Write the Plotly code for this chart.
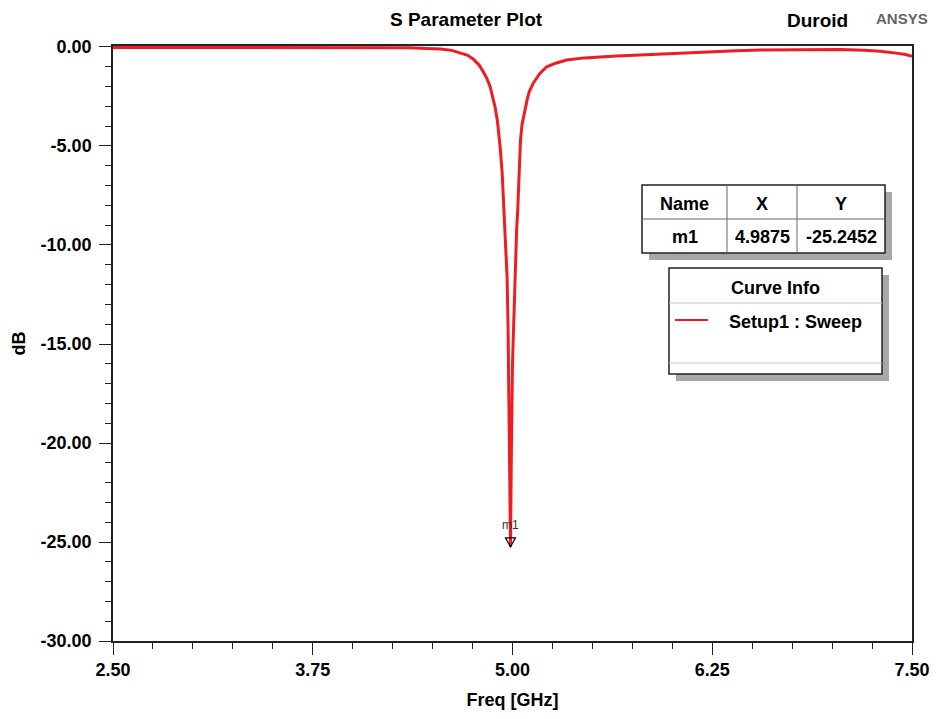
import plotly.graph_objects as go

# Return loss sweep of the Duroid patch (Setup1 : Sweep)
freq_ghz = [2.50, 2.75, 3.00, 3.25, 3.50, 3.75, 4.00, 4.20, 4.35, 4.46, 4.55, 4.62,
            4.67, 4.72, 4.755, 4.79, 4.817, 4.84, 4.86, 4.875, 4.89, 4.905, 4.915,
            4.922, 4.935, 4.942, 4.953, 4.960, 4.966, 4.972, 4.977, 4.982, 4.9875,
            4.993, 4.997, 5.000, 5.009, 5.017, 5.026, 5.033, 5.039, 5.045, 5.050,
            5.060, 5.078, 5.092, 5.105, 5.130, 5.170, 5.214, 5.270, 5.339, 5.450, 5.550,
            5.650, 5.800, 5.950, 6.100, 6.250, 6.400, 6.550, 6.800, 7.050, 7.200,
            7.300, 7.400, 7.460, 7.500]
s11_db = [-0.02, -0.02, -0.02, -0.01, -0.01, -0.01, -0.02, -0.03, -0.04, -0.07, -0.10,
          -0.17, -0.28, -0.42, -0.62, -0.90, -1.25, -1.60, -2.00, -2.45, -3.00, -3.70,
          -4.40, -5.00, -6.30, -7.50, -9.00, -10.30, -11.60, -14.00, -17.00, -20.50,
          -25.2452, -20.50, -17.50, -16.00, -13.60, -11.10, -9.20, -8.20, -7.00, -5.60,
          -4.70, -3.90, -3.10, -2.65, -2.25, -1.83, -1.35, -1.00, -0.82, -0.66, -0.55, -0.49,
          -0.46, -0.40, -0.34, -0.29, -0.24, -0.19, -0.15, -0.13, -0.13, -0.17, -0.22,
          -0.31, -0.38, -0.47]

# marker m1
m1_name = "m1"
m1_freq = 4.9875
m1_db = -25.2452

# axis ticks
x_tick_vals = [2.50, 3.75, 5.00, 6.25, 7.50]
x_tick_text = ["2.50", "3.75", "5.00", "6.25", "7.50"]
y_tick_vals = [0, -5, -10, -15, -20, -25, -30]
y_tick_text = ["0.00", "-5.00", "-10.00", "-15.00", "-20.00", "-25.00", "-30.00"]

FONT = "Arial, 'Liberation Sans', sans-serif"
RED = "#ee1d25"

W, H = 936, 719
ML, MR, MT, MB = 113, 24, 46, 78
PW, PH = W - ML - MR, H - MT - MB


def px(x):
    return (x - ML) / PW


def py(y):
    return (H - MB - y) / PH


def label(x, y, text, size=18, color="black", bold=True, xanchor="center"):
    return dict(x=px(x), y=py(y), xref="paper", yref="paper", text=text,
                showarrow=False, xanchor=xanchor, yanchor="middle",
                font=dict(family=FONT, size=size, color=color,
                          weight="bold" if bold else "normal"))


fig = go.Figure()
fig.add_trace(go.Scatter(
    x=freq_ghz, y=s11_db, mode="lines",
    line=dict(color=RED, width=3), name="Setup1 : Sweep",
    showlegend=False, hoverinfo="x+y",
))

shapes = []
annotations = []

# marker triangle (tip on the data point) and its label
shapes.append(dict(
    type="path", xref="x", yref="y", xsizemode="pixel", ysizemode="pixel",
    xanchor=m1_freq, yanchor=m1_db,
    path="M -5 9 L 5 9 L 0 0 Z", line=dict(color="black", width=1.2),
    fillcolor="rgba(0,0,0,0)", layer="above",
))
annotations.append(dict(
    x=m1_freq, y=m1_db, xref="x", yref="y", text=m1_name, showarrow=False,
    xanchor="center", yanchor="middle", yshift=22,
    font=dict(family=FONT, size=12, color="#333"),
))

# marker table
tx0, tx1, ty0, ty1, tmid = 642, 885, 185, 253, 219
col1, col2 = 727, 797
shadow = "#a8a8a8"
shapes.append(dict(type="rect", xref="paper", yref="paper",
                   x0=px(tx0 + 7), x1=px(tx1 + 7), y0=py(ty1 + 7), y1=py(ty0 + 7),
                   fillcolor=shadow, line=dict(width=0), layer="above"))
shapes.append(dict(type="rect", xref="paper", yref="paper",
                   x0=px(tx0), x1=px(tx1), y0=py(ty1), y1=py(ty0),
                   fillcolor="white", line=dict(color="#222", width=1.5), layer="above"))
shapes.append(dict(type="line", xref="paper", yref="paper",
                   x0=px(tx0), x1=px(tx1), y0=py(tmid), y1=py(tmid),
                   line=dict(color="#666", width=1), layer="above"))
for cx in (col1, col2):
    shapes.append(dict(type="line", xref="paper", yref="paper",
                       x0=px(cx), x1=px(cx), y0=py(ty1), y1=py(ty0),
                       line=dict(color="#666", width=1), layer="above"))

table_header = ["Name", "X", "Y"]
table_row = [m1_name, f"{m1_freq:.4f}", f"{m1_db:.4f}"]
col_centers = [(tx0 + col1) / 2, (col1 + col2) / 2, (col2 + tx1) / 2]
for cx, h_txt, r_txt in zip(col_centers, table_header, table_row):
    annotations.append(label(cx, 204, h_txt))
    annotations.append(label(cx, 237, r_txt))

# curve info box
lx0, lx1, ly0, ly1 = 669, 882, 268, 374
shapes.append(dict(type="rect", xref="paper", yref="paper",
                   x0=px(lx0 + 7), x1=px(lx1 + 7), y0=py(ly1 + 7), y1=py(ly0 + 7),
                   fillcolor=shadow, line=dict(width=0), layer="above"))
shapes.append(dict(type="rect", xref="paper", yref="paper",
                   x0=px(lx0), x1=px(lx1), y0=py(ly1), y1=py(ly0),
                   fillcolor="white", line=dict(color="#222", width=1.5), layer="above"))
for ly in (303, 363):
    shapes.append(dict(type="line", xref="paper", yref="paper",
                       x0=px(lx0), x1=px(lx1), y0=py(ly), y1=py(ly),
                       line=dict(color="#c8c8c8", width=1.2), layer="above"))
shapes.append(dict(type="line", xref="paper", yref="paper",
                   x0=px(675), x1=px(708), y0=py(320), y1=py(320),
                   line=dict(color=RED, width=2), layer="above"))
annotations.append(label((lx0 + lx1) / 2, 288, "Curve Info"))
annotations.append(label(727, 322, "Setup1 : Sweep", xanchor="left"))

# titles across the top
annotations.append(label(466, 20, "S Parameter Plot", size=19))
annotations.append(label(817, 21, "Duroid", size=19))
annotations.append(label(902, 19, "ANSYS", size=15, color="#666"))

axis_common = dict(
    showgrid=False, zeroline=False, showline=True, mirror=True, automargin=False,
    linecolor="#222", linewidth=1.5, ticks="outside", ticklen=12, tickwidth=1.3,
    tickcolor="#222",
    tickfont=dict(family=FONT, size=18, color="black", weight="bold"),
)

fig.update_layout(
    width=W, height=H, autosize=False,
    margin=dict(l=ML, r=MR, t=MT, b=MB, pad=0),
    paper_bgcolor="white", plot_bgcolor="white",
    xaxis=dict(
        range=[2.5, 7.5], tickvals=x_tick_vals, ticktext=x_tick_text,
        minor=dict(dtick=0.25, tick0=2.5, ticks="outside", ticklen=6, tickcolor="#222"),
        title=dict(text="Freq [GHz]", standoff=14,
                   font=dict(family=FONT, size=18, color="black", weight="bold")),
        **axis_common,
    ),
    yaxis=dict(
        range=[-30, 0.05], tickvals=y_tick_vals, ticktext=y_tick_text,
        minor=dict(dtick=1, tick0=0, ticks="outside", ticklen=6, tickcolor="#222"),
        ticklabelstandoff=4,
        title=dict(text="dB", standoff=10,
                   font=dict(family=FONT, size=18, color="black", weight="bold")),
        **axis_common,
    ),
    shapes=shapes,
    annotations=annotations,
    showlegend=False,
)

fig.write_html("out.html")
